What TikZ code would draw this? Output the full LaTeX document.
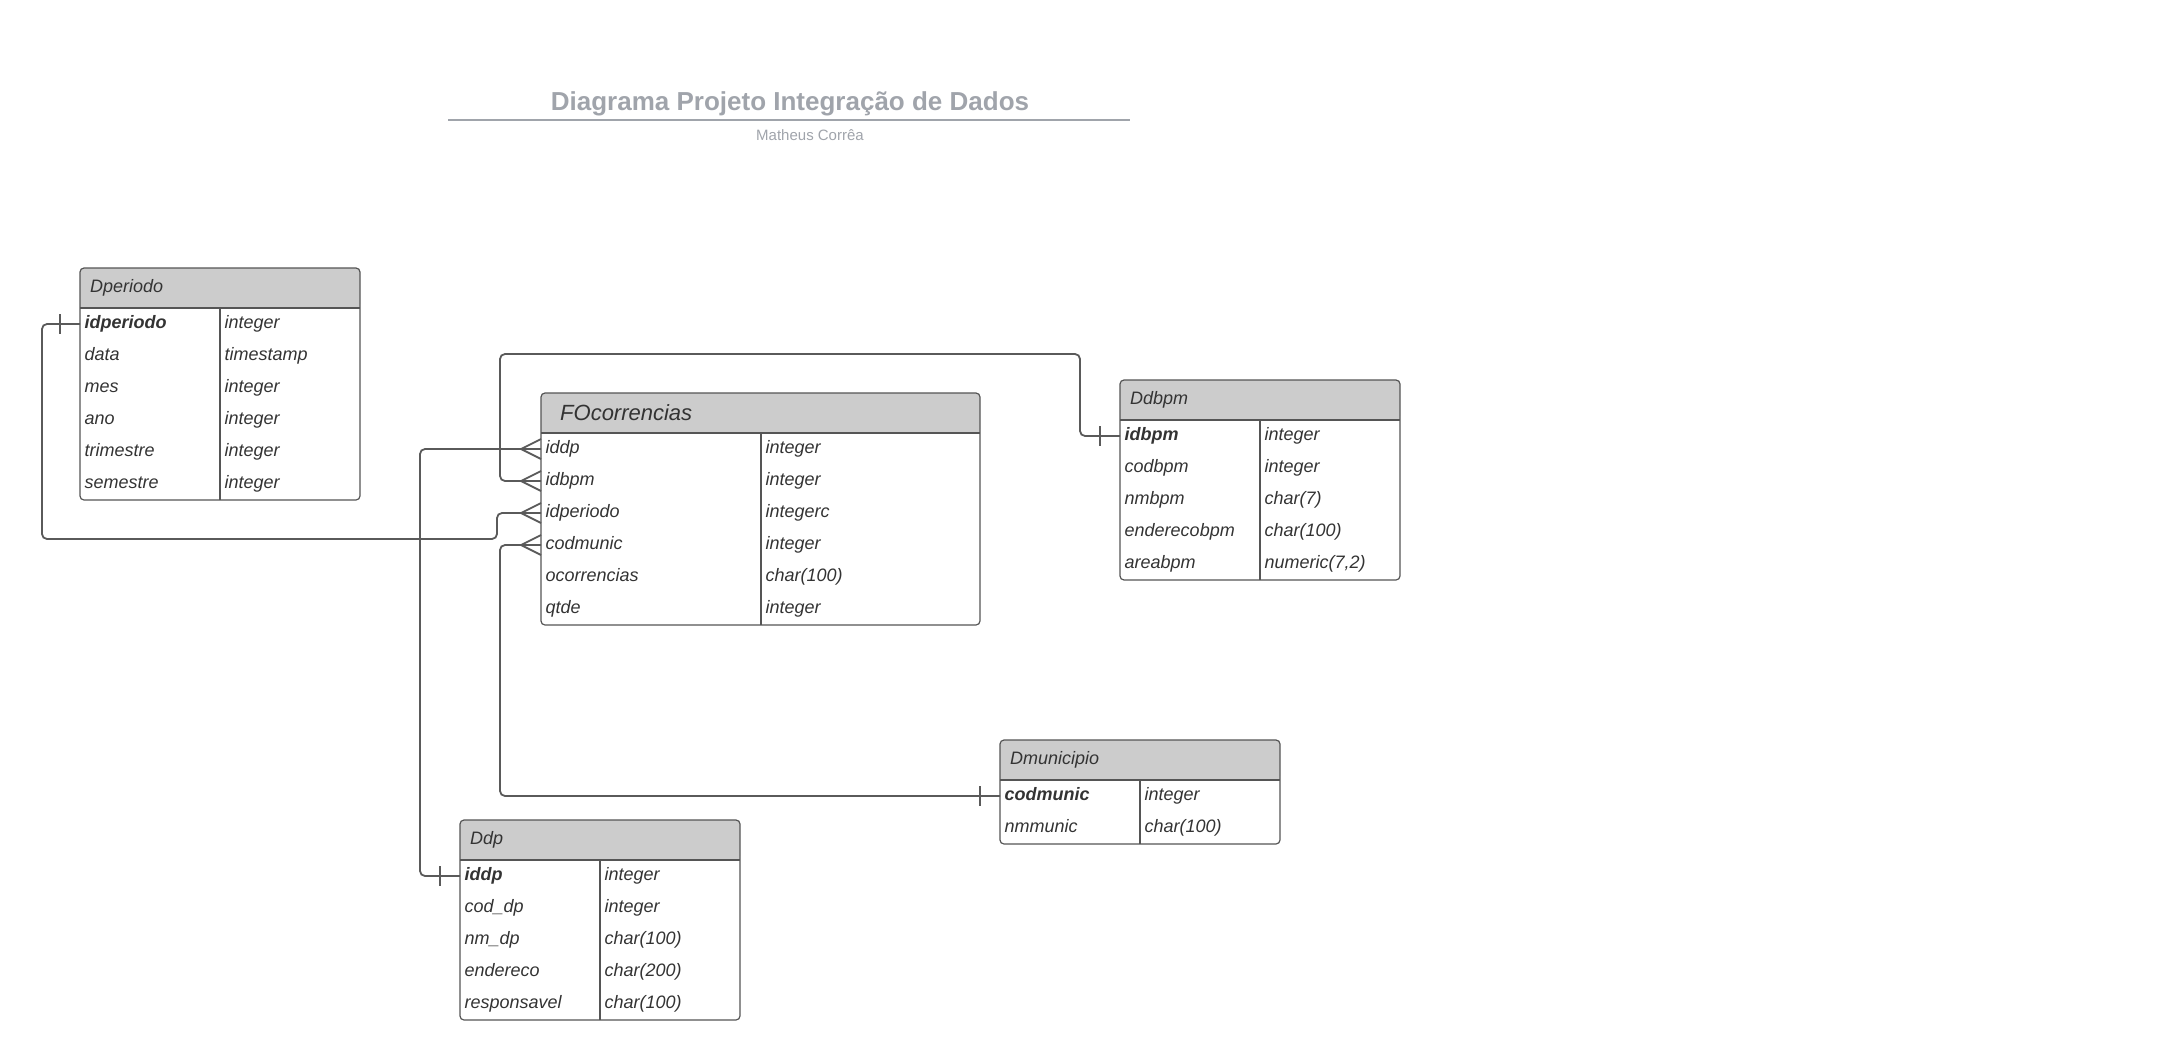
\documentclass[tikz,border=0pt]{standalone}
\usepackage{fontspec}
\setmainfont{Liberation Sans}

\definecolor{tinta}{RGB}{51,51,51}
\definecolor{corcabec}{RGB}{204,204,204}
\definecolor{corborda}{RGB}{85,85,85}
\definecolor{corliga}{RGB}{90,90,90}
\definecolor{cortitulo}{RGB}{160,164,171}

\tikzset{
  cabec/.style={fill=corcabec},
  borda/.style={draw=corborda, line width=1.2},
  linha/.style={minimum height=32, inner sep=0, outer sep=0},
  campo/.style={font=\fontsize{18}{21}\selectfont\itshape, text=tinta,
    inner xsep=4.5, inner ysep=0, text height=13, text depth=4},
  titulotab/.style={font=\fontsize{18}{21}\selectfont\itshape, text=tinta,
    inner sep=0, anchor=west},
  liga/.style={draw=corliga, line width=1.8, rounded corners=5},
}

% tabela: nome, x, y, largura, divisoria, linhas, titulo, campos
\newcommand{\tabela}[8]{%
  \begin{scope}[shift={(#2,#3)}]
    \fill[cabec, rounded corners=4] (0,0) rectangle (#4,40);
    \fill[cabec] (0,20) rectangle (#4,40);
    \node[titulotab] (#1-titulo) at (10,20) {#7};
    \foreach \campo/\tipo [count=\i] in {#8} {
      \node[linha, minimum width=#4, anchor=north west] (#1-\i) at (0,{40+32*(\i-1)}) {};
      \node[campo, anchor=west] (#1-\i-c) at (#1-\i.west) {\campo};
      \node[campo, anchor=west] (#1-\i-t) at ([xshift=#5]#1-\i.west) {\tipo};
    }
    \draw[borda] (0,40) -- (#4,40) (#5,40) -- (#5,{40+32*#6});
    \draw[borda, rounded corners=4] (0,0) rectangle (#4,{40+32*#6});
  \end{scope}
}
% lado "um" e lado "muitos"
\newcommand{\um}[1]{\draw[liga] ([xshift=-20]#1) ++(0,-10) -- ++(0,20);}
\newcommand{\muitos}[1]{\draw[liga, sharp corners] ([yshift=10]#1) -- ([xshift=-20]#1) -- ([yshift=-10]#1);}

\begin{document}
\begin{tikzpicture}[x=1pt, y=-1pt]
  \useasboundingbox (0,0) rectangle (2180,1060);

  % titulo
  \node[font=\fontsize{26}{30}\selectfont\bfseries, text=cortitulo, anchor=base] (titulo) at (790,110) {Diagrama Projeto Integração de Dados};
  \draw[cortitulo, line width=1.8] (448,120) -- (1130,120);
  \node[font=\fontsize{15}{18}\selectfont, text=cortitulo, anchor=base] (autor) at (810,140) {Matheus Corrêa};

  % dimensoes
  \tabela{dperiodo}{80}{268}{280}{140}{6}{Dperiodo}{\textbf{idperiodo}/integer, data/timestamp, mes/integer, ano/integer, trimestre/integer, semestre/integer}
  \tabela{ddbpm}{1120}{380}{280}{140}{5}{Ddbpm}{\textbf{idbpm}/integer, codbpm/integer, nmbpm/char(7), enderecobpm/char(100), areabpm/{numeric(7,2)}}
  \tabela{dmunic}{1000}{740}{280}{140}{2}{Dmunicipio}{\textbf{codmunic}/integer, nmmunic/char(100)}
  \tabela{ddp}{460}{820}{280}{140}{5}{Ddp}{\textbf{iddp}/integer, cod\_dp/integer, nm\_dp/char(100), endereco/char(200), responsavel/char(100)}

  % fato
  \begin{scope}[titulotab/.append style={font=\fontsize{22}{26}\selectfont\itshape, xshift=9}]
    \tabela{focorr}{541}{393}{439}{220}{6}{FOcorrencias}{iddp/integer, idbpm/integer, idperiodo/integerc, codmunic/integer, ocorrencias/char(100), qtde/integer}
  \end{scope}

  % ligacoes
  \draw[liga] (dperiodo-1.west) -- ++(-38,0) |- (497,539) |- (focorr-3.west);
  \draw[liga] (ddbpm-1.west) -- ++(-40,0) |- (500,354) |- (focorr-2.west);
  \draw[liga] (dmunic-1.west) -| ([xshift=-41]focorr-4.west) -- (focorr-4.west);
  \draw[liga] (ddp-1.west) -| ([xshift=-121]focorr-1.west) -- (focorr-1.west);

  \um{dperiodo-1.west} \um{ddbpm-1.west} \um{dmunic-1.west} \um{ddp-1.west}
  \muitos{focorr-1.west} \muitos{focorr-2.west} \muitos{focorr-3.west} \muitos{focorr-4.west}
\end{tikzpicture}
\end{document}
